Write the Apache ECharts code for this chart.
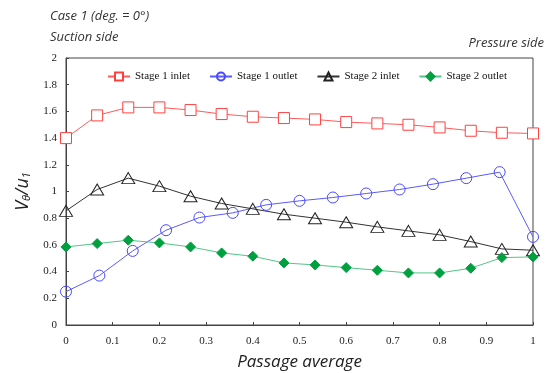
<!DOCTYPE html>
<html style="height: 100%">
<head>
<meta charset="utf-8" />
<title>Case 1</title>
<script type="text/javascript" src="https://cdn.jsdelivr.net/npm/echarts@6/dist/echarts.min.js"></script>
</head>
<body style="height: 100%; margin: 0; background: #fff;">
<div id="container" style="width: 551px; height: 373px"></div>
<script type="text/javascript">
// positions along the passage (16 stations and 15 stations)
var pos16 = [0, 0.0667, 0.1333, 0.2, 0.2667, 0.3333, 0.4, 0.4667, 0.5333, 0.6, 0.6667, 0.7333, 0.8, 0.8667, 0.9333, 1];
var pos15 = [0, 0.0714, 0.1429, 0.2143, 0.2857, 0.3571, 0.4286, 0.5, 0.5714, 0.6429, 0.7143, 0.7857, 0.8571, 0.9286, 1];

var stage1Inlet = [1.40, 1.57, 1.63, 1.63, 1.61, 1.58, 1.56, 1.55, 1.54, 1.52, 1.51, 1.50, 1.48, 1.455, 1.44, 1.435];
var stage1Outlet = [0.25, 0.37, 0.555, 0.71, 0.805, 0.84, 0.90, 0.93, 0.955, 0.985, 1.015, 1.055, 1.10, 1.145, 0.66];
var stage2Inlet = [0.855, 1.015, 1.10, 1.04, 0.965, 0.91, 0.87, 0.83, 0.80, 0.77, 0.735, 0.705, 0.675, 0.625, 0.57, 0.56];
var stage2Outlet = [0.585, 0.61, 0.635, 0.615, 0.585, 0.54, 0.515, 0.465, 0.45, 0.43, 0.41, 0.39, 0.39, 0.425, 0.505, 0.51];

function pairs(xs, ys) {
    var out = [];
    for (var i = 0; i < ys.length; i++) {
        out.push([xs[i], ys[i]]);
    }
    return out;
}

var myChart = echarts.init(document.getElementById('container'));
var titleFont = { fontFamily: 'Open Sans', fontStyle: 'italic', fontWeight: 'normal', fontSize: 13, color: '#333' };
var option = {
    animation: false,
    title: [
        { text: 'Case 1 (deg. = 0°)', left: 45, top: 5, textStyle: titleFont },
        { text: 'Suction side', left: 45, top: 26, textStyle: titleFont },
        { text: 'Pressure side', right: 2, top: 32, textStyle: titleFont }
    ],
    legend: {
        top: 66,
        left: 102,
        itemGap: 19,
        itemWidth: 22,
        itemHeight: 10,
        textStyle: { fontFamily: 'Liberation Serif', fontSize: 11, color: '#111' },
        data: ['Stage 1 inlet', 'Stage 1 outlet', 'Stage 2 inlet', 'Stage 2 outlet']
    },
    grid: {
        left: 66, right: 18, top: 58, bottom: 48,
        outerBoundsMode: 'none',
        containLabel: false,
        show: true, borderColor: '#444', borderWidth: 1
    },
    xAxis: {
        type: 'value',
        min: 0, max: 1, interval: 0.1,
        name: 'Passage average',
        nameLocation: 'middle',
        nameGap: 29,
        nameTextStyle: { fontFamily: 'Open Sans', fontStyle: 'italic', fontSize: 17, color: '#222' },
        axisLine: { lineStyle: { color: '#444' } },
        axisTick: { inside: true, length: 3, lineStyle: { color: '#444' } },
        axisLabel: { fontFamily: 'Liberation Serif', fontSize: 11, color: '#222', margin: 11 },
        splitLine: { show: false }
    },
    yAxis: {
        type: 'value',
        min: 0, max: 2, interval: 0.2,
        name: '{v|V}{s|θ}{v|/u}{s|1}',
        nameLocation: 'middle',
        nameRotate: 90,
        nameGap: 33,
        nameTextStyle: {
            rich: {
                v: { fontFamily: 'Open Sans', fontStyle: 'italic', fontSize: 18, color: '#222' },
                s: { fontFamily: 'Open Sans', fontStyle: 'italic', fontSize: 11, color: '#222', verticalAlign: 'bottom', padding: [8, 0, 0, 0] }
            }
        },
        axisLine: { show: true, lineStyle: { color: '#444' } },
        axisTick: { show: true, inside: true, length: 3, lineStyle: { color: '#444' } },
        axisLabel: { fontFamily: 'Liberation Serif', fontSize: 11, color: '#222', margin: 9 },
        splitLine: { show: false }
    },
    series: [
        {
            name: 'Stage 1 inlet', type: 'line',
            data: pairs(pos16, stage1Inlet),
            symbol: 'rect', symbolSize: 11,
            lineStyle: { color: '#ff5a5a', width: 1 },
            itemStyle: { color: '#fff', borderColor: '#ff4040', borderWidth: 1 }
        },
        {
            name: 'Stage 1 outlet', type: 'line',
            data: pairs(pos15, stage1Outlet),
            symbol: 'circle', symbolSize: 11,
            lineStyle: { color: '#5a5aff', width: 1 },
            itemStyle: { color: 'rgba(255,255,255,0)', borderColor: '#4848ff', borderWidth: 1 }
        },
        {
            name: 'Stage 2 inlet', type: 'line',
            data: pairs(pos16, stage2Inlet),
            symbol: 'triangle', symbolSize: [13, 11],
            lineStyle: { color: '#333', width: 1 },
            itemStyle: { color: 'rgba(255,255,255,0)', borderColor: '#222', borderWidth: 1 }
        },
        {
            name: 'Stage 2 outlet', type: 'line',
            data: pairs(pos16, stage2Outlet),
            symbol: 'diamond', symbolSize: 10,
            lineStyle: { color: '#55c488', width: 1 },
            itemStyle: { color: '#00a040', borderColor: '#00a040', borderWidth: 1 }
        }
    ]
};
myChart.setOption(option);
</script>
</body>
</html>
